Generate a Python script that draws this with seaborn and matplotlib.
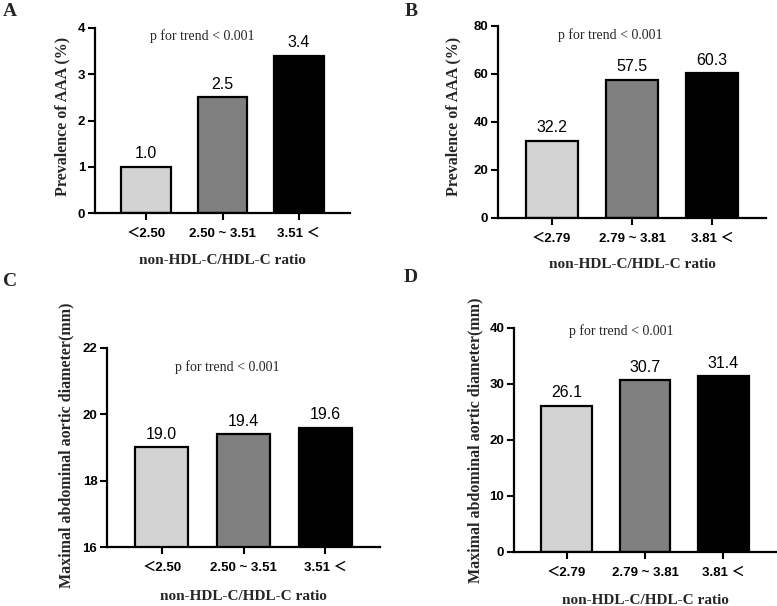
import matplotlib
matplotlib.use("Agg")
from matplotlib import pyplot as plt
import seaborn as sns

# data
cats_ac = ["＜2.50", "2.50 ~ 3.51", "3.51 ＜"]
cats_bd = ["＜2.79", "2.79 ~ 3.81", "3.81 ＜"]
prev_a = [1.0, 2.5, 3.4]
prev_b = [32.2, 57.5, 60.3]
diam_c = [19.0, 19.4, 19.6]
diam_d = [26.1, 30.7, 31.4]
bar_colors = ["#d3d3d3", "#808080", "#000000"]

W, H = 777, 606
sns.set_theme(style="ticks")
plt.rcParams['font.family'] = ['Liberation Sans', 'Noto Sans CJK SC', 'DejaVu Sans']

fig = plt.figure(figsize=(W / 100, H / 100), dpi=100)

def px(x, y):
    return x / W, 1 - y / H

def make_axes(left, top, right, bottom):
    return fig.add_axes([left / W, 1 - bottom / H, (right - left) / W, (bottom - top) / H])

serif = 'Liberation Serif'

panels = [
    # letter, box, cats, vals, ylim, yticks, ylabel, p pos, ylabel pos, xlabel pos, letter pos
    ("A", (95, 28, 350, 213), cats_ac, prev_a, (0, 4), [0, 1, 2, 3, 4],
     "Prevalence of AAA (%)", (0.42, 0.955), (62, 116), (222, 260), (10, 12)),
    ("B", (498, 26, 766, 218), cats_bd, prev_b, (0, 80), [0, 20, 40, 60, 80],
     "Prevalence of AAA (%)", (0.42, 0.955), (453, 116), (632, 265), (411, 12)),
    ("C", (107, 348, 380, 547), cats_ac, diam_c, (16, 22), [16, 18, 20, 22],
     "Maximal abdominal aortic diameter(mm)", (0.44, 0.905), (66, 445), (243, 597), (10, 282)),
    ("D", (514, 328, 776, 552), cats_bd, diam_d, (0, 40), [0, 10, 20, 30, 40],
     "Maximal abdominal aortic diameter(mm)", (0.41, 0.985), (475, 440), (645, 600), (411, 278)),
]

for letter, box, cats, vals, ylim, yticks, ylabel, ppos, ylpos, xlpos, lpos in panels:
    ax = make_axes(*box)
    sns.barplot(x=cats, y=vals, hue=cats, palette=bar_colors, edgecolor="black",
                linewidth=1.6, width=0.65, legend=False, ax=ax)
    ax.set_xlim(-0.67, 2.67)
    ax.set_ylim(*ylim)
    ax.set_yticks(yticks)
    ax.set_facecolor("white")
    sns.despine(ax=ax)
    for s in ["left", "bottom"]:
        ax.spines[s].set_linewidth(1.6)
        ax.spines[s].set_color("black")
    ax.tick_params(axis="both", direction="out", length=5, width=1.5, colors="black",
                   labelsize=9.5, pad=2)
    ax.tick_params(axis="x", pad=6)
    for t in ax.get_xticklabels() + ax.get_yticklabels():
        t.set_fontweight("bold")
    ax.set_xlabel("")
    ax.set_ylabel("")
    for c in ax.containers:
        ax.bar_label(c, fmt="%.1f", padding=4, fontsize=11.5, color="black")
    ax.text(ppos[0], ppos[1], "p for trend < 0.001", transform=ax.transAxes,
            ha="center", va="center", fontsize=10, family=serif)
    fig.text(*px(*ylpos), ylabel, rotation=90, ha="center", va="center",
             fontsize=11.5, fontweight="bold", family=serif)
    fig.text(*px(*xlpos), "non-HDL-C/HDL-C ratio", ha="center", va="center",
             fontsize=11, fontweight="bold", family=serif)
    fig.text(*px(*lpos), letter, ha="center", va="center",
             fontsize=14, fontweight="bold", family=serif)

fig.savefig("out.png", dpi=100, facecolor="white")
